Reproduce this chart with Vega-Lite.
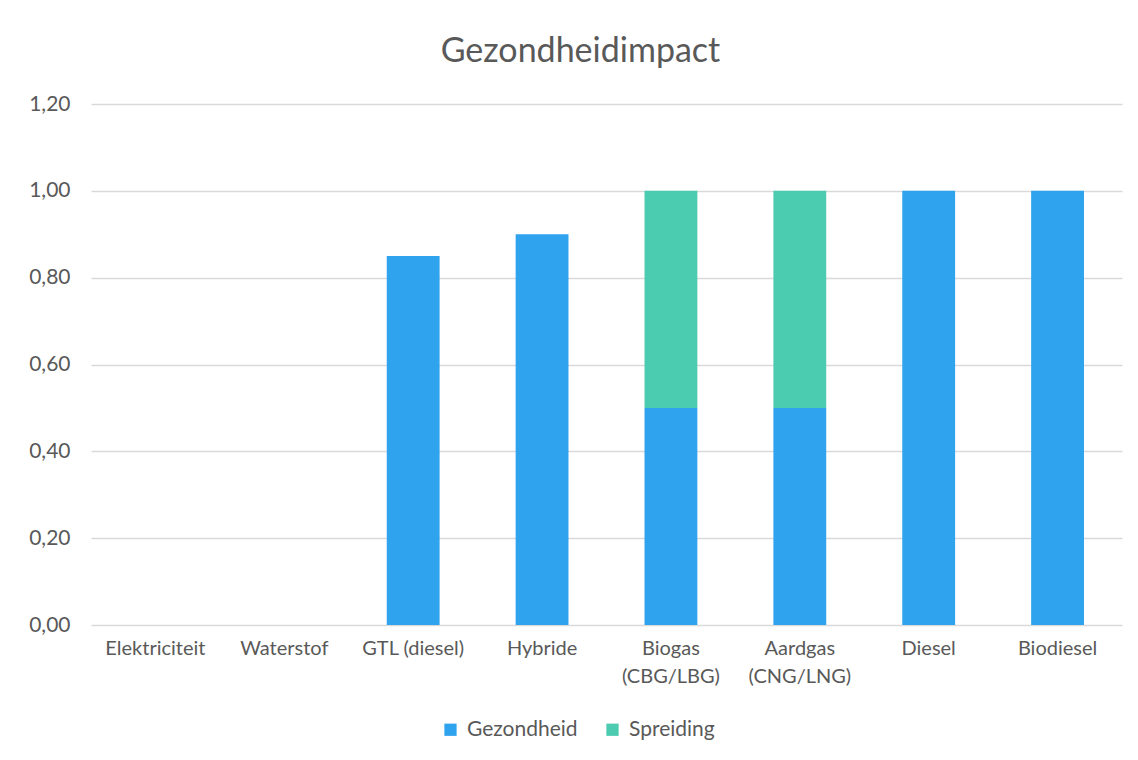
{
  "$schema": "https://vega.github.io/schema/vega-lite/v6.json",
  "autosize": "none",
  "width": 1031,
  "height": 521,
  "padding": {"left": 91, "top": 104, "right": 16, "bottom": 135},
  "background": "white",
  "title": {
    "text": "Gezondheidimpact",
    "fontSize": 34,
    "fontWeight": "normal",
    "font": "Lato",
    "color": "#595959",
    "anchor": "middle",
    "dx": -26,
    "offset": 24
  },
  "data": {
    "values": [
      {"brandstof": "Elektriciteit", "reeks": "Gezondheid", "waarde": 0, "volgorde": 1},
      {"brandstof": "Waterstof", "reeks": "Gezondheid", "waarde": 0, "volgorde": 1},
      {"brandstof": "GTL (diesel)", "reeks": "Gezondheid", "waarde": 0.85, "volgorde": 1},
      {"brandstof": "Hybride", "reeks": "Gezondheid", "waarde": 0.9, "volgorde": 1},
      {"brandstof": "Biogas (CBG/LBG)", "reeks": "Gezondheid", "waarde": 0.5, "volgorde": 1},
      {"brandstof": "Biogas (CBG/LBG)", "reeks": "Spreiding", "waarde": 0.5, "volgorde": 2},
      {"brandstof": "Aardgas (CNG/LNG)", "reeks": "Gezondheid", "waarde": 0.5, "volgorde": 1},
      {"brandstof": "Aardgas (CNG/LNG)", "reeks": "Spreiding", "waarde": 0.5, "volgorde": 2},
      {"brandstof": "Diesel", "reeks": "Gezondheid", "waarde": 1.0, "volgorde": 1},
      {"brandstof": "Biodiesel", "reeks": "Gezondheid", "waarde": 1.0, "volgorde": 1}
    ]
  },
  "mark": {"type": "bar"},
  "encoding": {
    "x": {
      "field": "brandstof",
      "type": "nominal",
      "sort": ["Elektriciteit", "Waterstof", "GTL (diesel)", "Hybride", "Biogas (CBG/LBG)", "Aardgas (CNG/LNG)", "Diesel", "Biodiesel"],
      "scale": {"paddingInner": 0.59, "paddingOuter": 0.295},
      "axis": {
        "title": null,
        "labelAngle": 0,
        "labelFont": "Lato",
        "labelFontSize": 20,
        "labelColor": "#595959",
        "labelPadding": 13,
        "labelLineHeight": 28,
        "ticks": false,
        "domain": false,
        "labelExpr": "test(/^(Biogas|Aardgas)/, datum.label) ? split(datum.label, ' ') : datum.label"
      }
    },
    "y": {
      "field": "waarde",
      "type": "quantitative",
      "stack": "zero",
      "scale": {"domain": [0, 1.2], "nice": false},
      "axis": {
        "title": null,
        "values": [0, 0.2, 0.4, 0.6, 0.8, 1.0, 1.2],
        "labelExpr": "replace(format(datum.value, '.2f'), '.', ',')",
        "labelFont": "Lato",
        "labelFontSize": 21,
        "labelColor": "#595959",
        "labelPadding": 21,
        "ticks": false,
        "domain": false,
        "gridColor": "#d9d9d9",
        "gridWidth": 1.5
      }
    },
    "color": {
      "field": "reeks",
      "type": "nominal",
      "scale": {"domain": ["Gezondheid", "Spreiding"], "range": ["#2FA3EE", "#4BCBAF"]},
      "legend": {
        "title": null,
        "orient": "none",
        "direction": "horizontal",
        "legendX": 349,
        "legendY": 615,
        "symbolType": "square",
        "symbolSize": 150,
        "symbolStrokeWidth": 0,
        "labelFont": "Lato",
        "labelFontSize": 21,
        "labelColor": "#595959",
        "labelOffset": 6,
        "columnPadding": 24
      }
    },
    "order": {"field": "volgorde", "type": "quantitative"}
  },
  "config": {"view": {"stroke": null}}
}
